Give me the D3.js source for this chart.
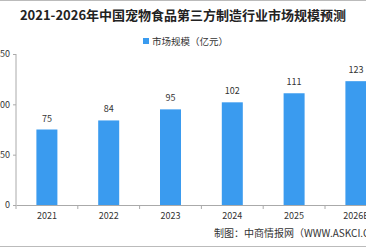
<!DOCTYPE html>
<html><head><meta charset="utf-8">
<script src="https://cdn.jsdelivr.net/npm/d3@7"></script>
<style>html,body{margin:0;padding:0;background:#fff;overflow:hidden}svg{display:block}</style>
</head><body>
<svg id="c" width="366" height="248"></svg>
<script>
const categories = ["2021","2022","2023","2024","2025","2026E"];
const values = [75, 84, 95, 102, 111, 123];
const yTicks = [0, 50, 100, 150];
const title = "2021-2026年中国宠物食品第三方制造行业市场规模预测";
const legendLabel = "市场规模（亿元）";
const source = "制图：中商情报网（WWW.ASKCI.COM）";

const svg = d3.select("#c");
const font = "'Noto Sans CJK SC', 'Noto Sans', sans-serif";
const x = d3.scaleBand().domain(categories).range([16, 16 + 6 * 61.8]).padding(0);
const y = d3.scaleLinear().domain([0, 150]).range([205, 54]);

// frame lines
svg.append("line").attr("x1",0).attr("x2",366).attr("y1",0.5).attr("y2",0.5).attr("stroke","#bbb");
svg.append("line").attr("x1",0).attr("x2",366).attr("y1",246.5).attr("y2",246.5).attr("stroke","#bbb");

svg.append("text").attr("x",183).attr("y",20).attr("text-anchor","middle")
  .attr("font-family",font).attr("font-weight","bold").attr("font-size",13).attr("fill","#222").text(title);

// legend
svg.append("rect").attr("x",143).attr("y",38).attr("width",6).attr("height",6).attr("fill","#3a9bef");
svg.append("text").attr("x",152).attr("y",44.5).attr("font-family",font).attr("font-size",9.5).attr("fill","#333").text(legendLabel);

// y axis
const ya = svg.append("g").attr("transform","translate(16,0)")
  .call(d3.axisLeft(y).tickValues(yTicks).tickSize(3).tickPadding(3));
ya.selectAll("path,line").attr("stroke","#aaa");
ya.select(".domain").attr("d","M0,54V205");
ya.selectAll("text").attr("font-family",font).attr("font-size",9).attr("fill","#333");

// x axis
const xa = svg.append("g").attr("transform","translate(0,205)")
  .call(d3.axisBottom(x).tickSize(0).tickPadding(8));
xa.select(".domain").attr("stroke","#aaa");
xa.selectAll("text").attr("font-family",font).attr("font-size",9).attr("fill","#333");
const bounds = categories.map(c => x(c)).concat([x(categories[categories.length-1]) + x.bandwidth()]);
svg.append("g").selectAll("line").data(bounds).join("line")
  .attr("x1",d=>d).attr("x2",d=>d).attr("y1",205).attr("y2",209).attr("stroke","#aaa");

// bars
const bw = 21;
svg.append("g").selectAll("rect").data(values).join("rect")
  .attr("x",(d,i)=>x(categories[i]) + x.bandwidth()/2 - bw/2)
  .attr("y",d=>y(d)).attr("width",bw).attr("height",d=>y(0)-y(d)).attr("fill","#3a9bef");

svg.append("g").selectAll("text").data(values).join("text")
  .attr("x",(d,i)=>x(categories[i]) + x.bandwidth()/2)
  .attr("y",d=>y(d)-8).attr("text-anchor","middle")
  .attr("font-family",font).attr("font-size",9).attr("fill","#333").text(d=>d);

svg.append("text").attr("x",214).attr("y",237).attr("font-family",font).attr("font-size",10).attr("fill","#333").text(source);
</script>
</body></html>
